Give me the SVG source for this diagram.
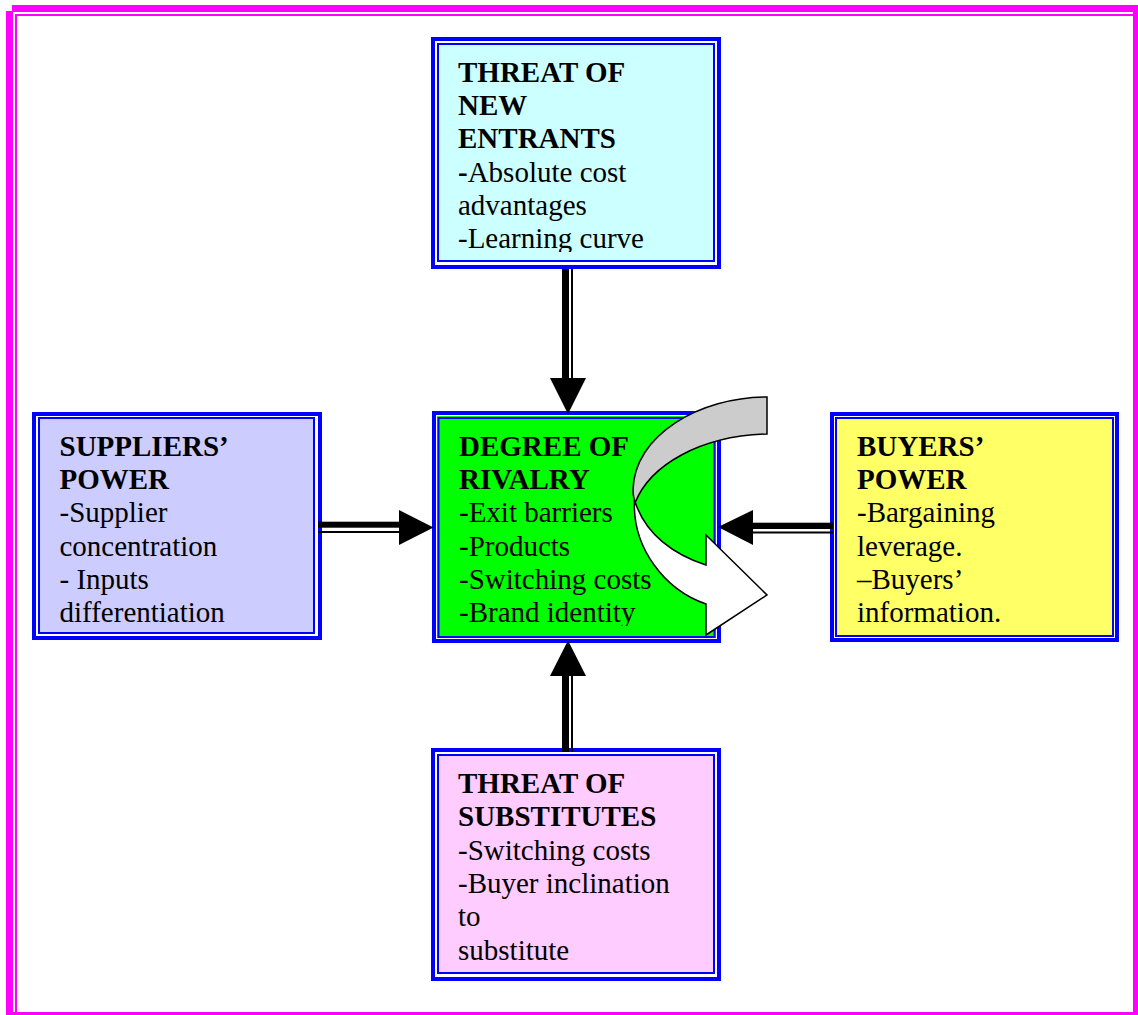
<svg xmlns="http://www.w3.org/2000/svg" width="1138" height="1015" viewBox="0 0 1138 1015">
  <style>
    .frame { fill: #FF00FF; }
    .outer { fill: #FFFFFF; stroke: #0000FF; stroke-width: 4; }
    .inner { stroke: #0000FF; stroke-width: 2; }
    .t { font-family: "Liberation Serif", "Times New Roman", serif; font-size: 29px; fill: #000000; }
    .b { font-weight: bold; }
    .shaft, .head { fill: #000000; }
    .curl { stroke: #000000; stroke-width: 1.5; stroke-linejoin: miter; }
  </style>
  <defs>
    <clipPath id="clipTop"><rect x="437" y="43" width="278" height="209"/></clipPath>
    <clipPath id="clipSup"><rect x="38" y="417" width="277" height="209"/></clipPath>
    <clipPath id="clipCen"><rect x="437" y="417" width="279" height="209"/></clipPath>
    <clipPath id="clipBuy"><rect x="835" y="417" width="279" height="209"/></clipPath>
    <clipPath id="clipSub"><rect x="437" y="754" width="278" height="209"/></clipPath>
  </defs>
  <rect width="1138" height="1015" fill="#FFFFFF"/>
  <g id="page-frame">
    <rect class="frame" x="12" y="5" width="1126" height="7"/>
    <rect class="frame" x="6" y="11" width="7" height="1004"/>
    <rect class="frame" x="1133" y="5" width="5" height="1010"/>
    <rect class="frame" x="6" y="1012" width="1132" height="3"/>
    <rect class="frame" x="15" y="14" width="1118" height="2"/>
    <rect class="frame" x="15" y="14" width="2" height="998"/>
  </g>

  <g id="threat-new-entrants">
    <rect class="outer" x="433" y="39" width="286" height="228"/>
    <rect class="inner" x="438" y="44" width="276" height="217" fill="#CCFFFF"/>
    <g clip-path="url(#clipTop)">
      <text class="t b" x="458" y="81.7">THREAT OF</text>
      <text class="t b" x="458" y="115">NEW</text>
      <text class="t b" x="458" y="148.3">ENTRANTS</text>
      <text class="t" x="458" y="181.7"><tspan font-weight="bold">-</tspan>Absolute cost</text>
      <text class="t" x="458" y="215">advantages</text>
      <text class="t" x="458" y="248.3">-Learning curve</text>
    </g>
  </g>

  <g id="suppliers-power">
    <rect class="outer" x="34" y="414" width="286" height="224"/>
    <rect class="inner" x="39" y="418" width="275" height="215" fill="#CCCCFF"/>
    <g clip-path="url(#clipSup)">
      <text class="t b" x="59.5" y="455.7">SUPPLIERS’</text>
      <text class="t b" x="59.5" y="489">POWER</text>
      <text class="t" x="59.5" y="522.3">-Supplier</text>
      <text class="t" x="59.5" y="555.7">concentration</text>
      <text class="t" x="59.5" y="589">- Inputs</text>
      <text class="t" x="59.5" y="622.3">differentiation</text>
    </g>
  </g>

  <g id="degree-of-rivalry">
    <rect class="outer" x="434" y="413" width="285" height="228"/>
    <rect x="437" y="416" width="279" height="222" fill="#00FF00"/>
    <rect class="inner" x="438.5" y="418" width="276" height="219" fill="#00FF00"/>
    <g clip-path="url(#clipCen)">
      <text class="t b" x="459" y="455.5">DEGREE OF</text>
      <text class="t b" x="459" y="489">RIVALRY</text>
      <text class="t" x="459" y="522.3">-Exit barriers</text>
      <text class="t" x="459" y="555.7">-Products</text>
      <text class="t" x="459" y="589">-Switching costs</text>
      <text class="t" x="459" y="622.3">-Brand identity</text>
    </g>
  </g>

  <g id="buyers-power">
    <rect class="outer" x="832" y="414" width="285" height="226"/>
    <rect class="inner" x="836" y="418" width="277" height="218" fill="#FFFF66"/>
    <g clip-path="url(#clipBuy)">
      <text class="t b" x="857" y="455.7">BUYERS’</text>
      <text class="t b" x="857" y="489">POWER</text>
      <text class="t" x="857" y="522.3">-Bargaining</text>
      <text class="t" x="857" y="555.7">leverage.</text>
      <text class="t" x="857" y="589">–Buyers’</text>
      <text class="t" x="857" y="622.3">information.</text>
    </g>
  </g>

  <g id="threat-substitutes">
    <rect class="outer" x="433" y="750" width="286" height="229"/>
    <rect class="inner" x="438" y="755" width="276" height="218" fill="#FFCCFF"/>
    <g clip-path="url(#clipSub)">
      <text class="t b" x="458" y="793">THREAT OF</text>
      <text class="t b" x="458" y="826.3">SUBSTITUTES</text>
      <text class="t" x="458" y="859.7">-Switching costs</text>
      <text class="t" x="458" y="893">-Buyer inclination</text>
      <text class="t" x="458" y="926.3">to</text>
      <text class="t" x="458" y="959.7">substitute</text>
    </g>
  </g>

  <g id="connectors">
    <g id="entrants-to-rivalry">
      <rect class="shaft" x="562" y="269" width="7" height="111"/>
      <rect class="shaft" x="571" y="269" width="2" height="111"/>
      <polygon class="head" points="550,378 586,378 568,414"/>
    </g>
    <g id="substitutes-to-rivalry">
      <rect class="shaft" x="562" y="674" width="7" height="78"/>
      <rect class="shaft" x="571" y="674" width="2" height="78"/>
      <polygon class="head" points="568,640.5 550,676 586,676"/>
    </g>
    <g id="suppliers-to-rivalry">
      <rect class="shaft" x="318" y="521.7" width="83" height="6"/>
      <rect class="shaft" x="318" y="531" width="83" height="2"/>
      <polygon class="head" points="399,510 399,545 433.5,527.5"/>
    </g>
    <g id="buyers-to-rivalry">
      <rect class="shaft" x="751" y="522.7" width="82" height="6.3"/>
      <rect class="shaft" x="751" y="531.5" width="82" height="2"/>
      <polygon class="head" points="753,510 753,545 718,527"/>
    </g>
  </g>

  <g id="rivalry-cycle">
    <path class="curl" fill="#CCCCCC" d="M767,397 C700,397 634,435 633,490 C633,495 634,499 635,503 C650,465 700,436 767,434 Z"/>
    <path class="curl" fill="#FFFFFF" d="M634.5,500 C632,548 665,590 706,604 L706,635 L767,595 L706,535 L706,565 C675,555 645,535 634.5,500 Z"/>
  </g>
</svg>
